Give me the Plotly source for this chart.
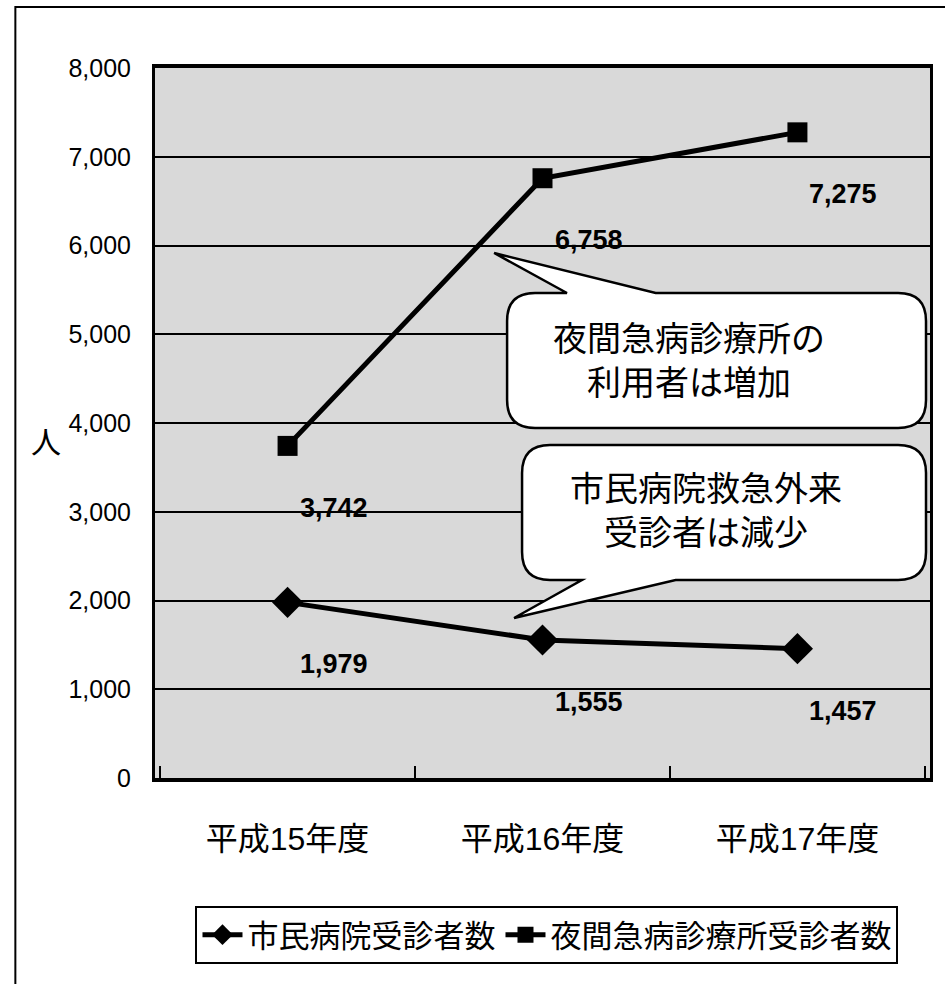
import plotly.graph_objects as go

categories = ["平成15年度", "平成16年度", "平成17年度"]
hospital = [1979, 1555, 1457]
night_clinic = [3742, 6758, 7275]
series_names = ["市民病院受診者数", "夜間急病診療所受診者数"]
y_ticks = [0, 1000, 2000, 3000, 4000, 5000, 6000, 7000, 8000]
callout1 = ["夜間急病診療所の", "利用者は増加"]
callout2 = ["市民病院救急外来", "受診者は減少"]

W, H = 945, 984
PL, PR, PT, PB = 155, 932, 68, 778
NARROW = "Liberation Sans Narrow, Arial Narrow, Liberation Sans, Arial, Noto Sans CJK JP"
CJK = "Noto Sans CJK JP, Noto Sans CJK SC"


def px(x, y):
    return (x - PL) / (PR - PL), (PB - y) / (PB - PT)


def path_from(points):
    parts = []
    for cmd, pts in points:
        coords = " ".join("%.5f,%.5f" % px(*p) for p in pts)
        parts.append(cmd + " " + coords if coords else cmd)
    return " ".join(parts)


def bubble(L, T, R, B, r, ptr_side, b1, tip, b2):
    seq = [("M", [(L + r, T)])]
    if ptr_side == "top":
        seq += [("L", [(b1, T)]), ("L", [tip]), ("L", [(b2, T)])]
    seq += [("L", [(R - r, T)]), ("Q", [(R, T), (R, T + r)]),
            ("L", [(R, B - r)]), ("Q", [(R, B), (R - r, B)])]
    if ptr_side == "bottom":
        seq += [("L", [(b2, B)]), ("L", [tip]), ("L", [(b1, B)])]
    seq += [("L", [(L + r, B)]), ("Q", [(L, B), (L, B - r)]),
            ("L", [(L, T + r)]), ("Q", [(L, T), (L + r, T)]), ("Z", [])]
    return path_from(seq)


fig = go.Figure()
fig.add_trace(go.Scatter(
    x=categories, y=hospital, name=series_names[0], mode="lines+markers",
    line=dict(color="black", width=5),
    marker=dict(symbol="diamond", size=24, color="black"),
))
fig.add_trace(go.Scatter(
    x=categories, y=night_clinic, name=series_names[1], mode="lines+markers",
    line=dict(color="black", width=5),
    marker=dict(symbol="square", size=20, color="black"),
))

# data labels
for series in (hospital, night_clinic):
    for cat, v in zip(categories, series):
        fig.add_annotation(x=cat, y=v, text=f"{v:,}", showarrow=False,
                           xshift=46, yshift=-62, xanchor="center", yanchor="middle",
                           font=dict(family=NARROW, size=27, color="black", weight="bold"))

shapes = []
# outer chart frame
fx0, fy0 = px(15, 7)
fx1, fy1 = px(960, 1000)
shapes.append(dict(type="rect", xref="paper", yref="paper", x0=fx0, y0=fy1, x1=fx1, y1=fy0,
                   line=dict(color="black", width=2), fillcolor="rgba(0,0,0,0)", layer="below"))
# callouts
shapes.append(dict(type="path", xref="paper", yref="paper",
                   path=bubble(508, 293, 928, 428, 28, "top", 568, (495, 253), 657),
                   fillcolor="white", line=dict(color="black", width=2.5), layer="above"))
shapes.append(dict(type="path", xref="paper", yref="paper",
                   path=bubble(523, 445, 928, 580, 28, "bottom", 583, (515, 618), 677),
                   fillcolor="white", line=dict(color="black", width=2.5), layer="above"))

for lines, (cx, cy) in [(callout1, (690, 358)), (callout2, (707, 508))]:
    ax, ay = px(cx, cy)
    fig.add_annotation(xref="paper", yref="paper", x=ax, y=ay, text="<br>".join(lines),
                       showarrow=False, xanchor="center", yanchor="middle", align="center",
                       font=dict(family=CJK, size=34, color="black"))

# y-axis unit
ux, uy = px(46, 440)
fig.add_annotation(xref="paper", yref="paper", x=ux, y=uy, text="人", showarrow=False,
                   xanchor="center", yanchor="middle",
                   font=dict(family=CJK, size=30, color="black"))

lx, ly = px(548, 906)
fig.update_layout(
    width=W, height=H,
    margin=dict(l=PL, r=W - PR, t=PT, b=H - PB),
    paper_bgcolor="white", plot_bgcolor="#d9d9d9",
    shapes=shapes,
    showlegend=True,
    legend=dict(orientation="h", x=lx, y=ly, xanchor="center", yanchor="top",
                bordercolor="black", borderwidth=2, bgcolor="white",
                font=dict(family=NARROW, size=31, color="black"),
                itemwidth=40, tracegroupgap=0),
    xaxis=dict(type="category", range=[-0.52, 2.52], showgrid=False,
               showline=True, linecolor="black", linewidth=4, mirror=True,
               ticks="inside", tickson="boundaries", ticklen=12, tickwidth=2, tickcolor="black",
               ticklabelstandoff=30,
               tickfont=dict(family=NARROW, size=32, color="black")),
    yaxis=dict(range=[0, 8000], tickvals=y_ticks, ticktext=[f"{v:,}" for v in y_ticks],
               showgrid=True, gridcolor="black", gridwidth=2, zeroline=False,
               showline=True, linecolor="black", linewidth=3, mirror=True,
               ticks="", ticklabelstandoff=16,
               tickfont=dict(family=NARROW, size=25, color="black")),
)

fig.write_html("out.html")
